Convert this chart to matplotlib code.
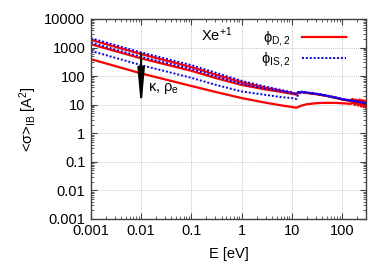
import matplotlib
matplotlib.use("Agg")
import matplotlib.pyplot as plt
from matplotlib.lines import Line2D

plt.rcParams["font.family"] = ["Liberation Sans", "DejaVu Sans"]
plt.rcParams["mathtext.fontset"] = "custom"
plt.rcParams["mathtext.rm"] = "Liberation Sans"
plt.rcParams["mathtext.it"] = "Liberation Sans"
plt.rcParams["mathtext.bf"] = "Liberation Sans"
plt.rcParams["mathtext.default"] = "rm"

# Energy grid [eV]
energy = [0.001, 0.01, 0.1, 0.3, 1, 3, 6, 10, 12.4, 13.5, 16, 20, 33, 50, 76, 100,
          130, 150, 165, 180, 195, 210, 225, 240, 255, 270, 285, 300]

# phi_D,2 curves (red, solid)
red_1 = [1845, 588, 206, 113, 61, 39, 31, 26, 23.5, 27.2, 27.6, 26.2, 23.3, 20.4, 17.5, 15.5,
         14.4, 14.5, 15.8, 12.4, 15.0, 11.6, 15.2, 10.8, 14.4, 10.2, 13.8, 9.8]
red_2 = [1304, 416, 153, 86, 49, 34, 28, 24, 22.5, 26.6, 27.1, 25.6, 22.8, 20.0, 17.1, 15.2,
         14.0, 13.0, 11.5, 14.8, 11.0, 14.2, 10.4, 13.8, 9.8, 13.2, 9.4, 12.6]
red_3 = [390, 124, 45, 28, 17, 11.7, 9.5, 8.3, 7.8, 8.4, 9.4, 10.4, 11.4, 11.6, 11.5, 11.2,
         10.9, 10.6, 12.3, 9.6, 12.6, 9.2, 13.0, 8.6, 12.4, 8.2, 12.0, 7.8]

# phi_IS,2 curves (blue, dotted)
blue_1 = [2113, 673, 242, 132, 68, 43, 33, 27, 24, 28, 28.5, 27, 24, 21, 18, 16,
          14.8, 14.2, 13.6, 13.5, 12.9, 12.8, 12.2, 12.3, 11.7, 11.8, 11.2, 11.3]
blue_2 = [1483, 472, 176, 98, 53, 36, 29.5, 25, 23, 27.5, 28, 26.5, 23.5, 20.6, 17.6, 15.7,
          14.5, 13.8, 13.9, 13.0, 13.1, 12.4, 12.5, 11.8, 12.0, 11.3, 11.5, 10.9]
blue_3 = [760, 242, 87, 50, 29, 22, 18.5, 17, 15.8, 24, 27, 26, 23, 20.2, 17.3, 15.4,
          14.2, 13.5, 13.2, 13.2, 12.6, 12.5, 12.0, 11.9, 11.4, 11.4, 10.9, 10.8]

x_ticks = [0.001, 0.01, 0.1, 1, 10, 100]
x_tick_labels = ["0.001", "0.01", "0.1", "1", "10", "100"]
y_ticks = [0.001, 0.01, 0.1, 1, 10, 100, 1000, 10000]
y_tick_labels = ["0.001", "0.01", "0.1", "1", "10", "100", "1000", "10000"]

fig = plt.figure(figsize=(3.82, 2.67), dpi=100)
ax = fig.add_axes([0.238, 0.18, 0.720, 0.749])

for ys in (red_1, red_2, red_3):
    ax.plot(energy, ys, color="#ff0000", lw=1.6, solid_joinstyle="round")
for ys in (blue_1, blue_2, blue_3):
    ax.plot(energy, ys, color="#0000ff", lw=1.4, linestyle=(0, (1, 1)))

ax.set_xscale("log")
ax.set_yscale("log")
ax.set_xlim(0.001, 300)
ax.set_ylim(0.001, 10000)
ax.set_xticks(x_ticks)
ax.set_xticklabels(x_tick_labels)
ax.set_yticks(y_ticks)
ax.set_yticklabels(y_tick_labels)
ax.yaxis.set_minor_locator(matplotlib.ticker.LogLocator(base=10, subs=range(2, 10), numticks=20))
ax.xaxis.set_minor_locator(matplotlib.ticker.LogLocator(base=10, subs=range(2, 10), numticks=20))
ax.yaxis.set_minor_formatter(matplotlib.ticker.NullFormatter())
ax.xaxis.set_minor_formatter(matplotlib.ticker.NullFormatter())

ax.tick_params(which="both", direction="in", top=True, right=True, labelsize=10.5,
               color="#404040")
ax.tick_params(which="major", length=4, width=0.8, pad=4)
ax.tick_params(which="minor", length=2, width=0.6)
ax.grid(True, which="major", color="#b0b0b0", linestyle=(0, (1, 1.5)), lw=0.6)
for sp in ax.spines.values():
    sp.set_color("#404040")
    sp.set_linewidth(1.0)

ax.set_xlabel("E [eV]", fontsize=10.5, labelpad=6)
ax.set_ylabel(r"<$\sigma$>$_{IB}$ [A$^2$]", fontsize=10.5, labelpad=4)

ax.text(0.40, 0.92, r"Xe$^{+1}$", transform=ax.transAxes, fontsize=10.5, va="center")

ax.annotate("", xy=(0.01, 7.2), xytext=(0.01, 640),
            arrowprops=dict(arrowstyle="-|>,head_length=1.1,head_width=0.1",
                            mutation_scale=20, lw=1.5, color="black",
                            shrinkA=0, shrinkB=0))
ax.text(0.0138, 38, r"$\kappa$, $\rho_e$", fontsize=10.5, va="center")

handles = [Line2D([], [], color="#ff0000", lw=1.6),
           Line2D([], [], color="#0000ff", lw=1.4, linestyle=(0, (1, 1)))]
ax.legend(handles, [r"$\phi_{D,2}$", r"$\phi_{IS,2}$"], loc="upper right",
          bbox_to_anchor=(0.965, 1.0), markerfirst=False, frameon=False,
          fontsize=10.5, handlelength=3.0, labelspacing=0.1, borderaxespad=0.3)

fig.savefig("out.png", dpi=100)
